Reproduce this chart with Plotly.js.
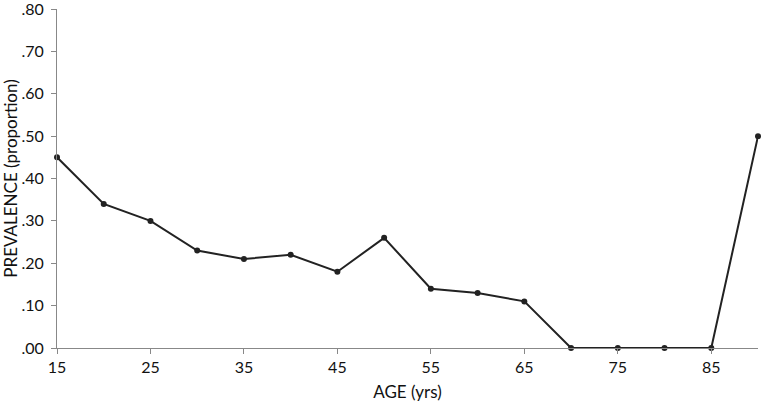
<!DOCTYPE html>
<html>
<head>
<meta charset="utf-8">
<script src="https://cdn.plot.ly/plotly-3.0.1.min.js"></script>
<style>html,body{margin:0;padding:0;background:#fff;}#chart{width:761px;height:402px;}</style>
</head>
<body>
<div id="chart"></div>
<script>
const ages = [15, 20, 25, 30, 35, 40, 45, 50, 55, 60, 65, 70, 75, 80, 85, 90];
const prevalence = [0.45, 0.34, 0.30, 0.23, 0.21, 0.22, 0.18, 0.26, 0.14, 0.13, 0.11, 0.00, 0.00, 0.00, 0.00, 0.50];
const xTickVals = [15, 25, 35, 45, 55, 65, 75, 85];
const xTickText = ["15", "25", "35", "45", "55", "65", "75", "85"];
const yTickVals = [0, 0.1, 0.2, 0.3, 0.4, 0.5, 0.6, 0.7, 0.8];
const yTickText = [".00", ".10", ".20", ".30", ".40", ".50", ".60", ".70", ".80"];
const xTitle = "AGE (yrs)";
const yTitle = "PREVALENCE (proportion)";

const tickFont = {family: "Lato, 'Open Sans', sans-serif", size: 16, color: "#111"};
const titleFont = {family: "Lato, 'Open Sans', sans-serif", size: 17, color: "#111"};

Plotly.newPlot("chart", [{
  x: ages, y: prevalence, type: "scatter", mode: "lines+markers",
  line: {color: "#222", width: 2},
  marker: {color: "#222", size: 6},
  cliponaxis: false, hoverinfo: "none"
}], {
  width: 761, height: 402,
  margin: {l: 57, r: 3, t: 9, b: 54},
  paper_bgcolor: "#fff", plot_bgcolor: "#fff",
  font: tickFont,
  showlegend: false,
  xaxis: {
    range: [15, 90], tickvals: xTickVals, ticktext: xTickText,
    showgrid: false, zeroline: false, showline: true, linecolor: "#888", linewidth: 1,
    ticks: "outside", ticklen: 5, tickcolor: "#888",
    tickfont: tickFont, ticklabeloverflow: "allow",
    title: {text: xTitle, font: titleFont, standoff: 12}
  },
  yaxis: {
    range: [0, 0.8], tickvals: yTickVals, ticktext: yTickText,
    showgrid: false, zeroline: false, showline: true, linecolor: "#888", linewidth: 1,
    ticks: "outside", ticklen: 5, tickcolor: "#888",
    tickfont: tickFont, ticklabeloverflow: "allow", ticklabelstandoff: 4,
    title: {text: yTitle, font: titleFont, standoff: 6}
  }
}, {staticPlot: true});
</script>
</body>
</html>
